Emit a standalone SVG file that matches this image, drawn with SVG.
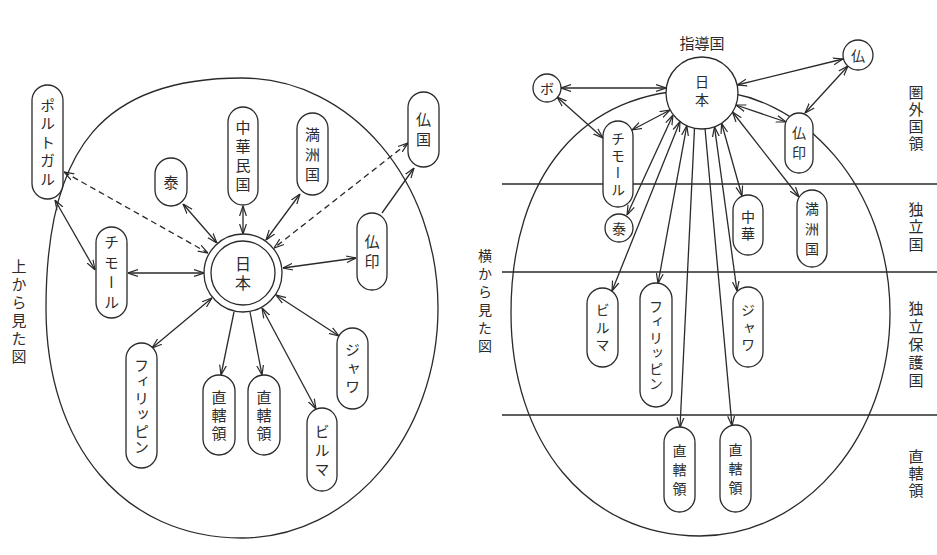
<svg xmlns="http://www.w3.org/2000/svg" width="937" height="555" viewBox="0 0 937 555">
<style>
.bg{fill:#fff}
.frame{fill:none;stroke:#2a2a2a;stroke-width:1.3}
.node{fill:#fff;stroke:#2a2a2a;stroke-width:1.3}
.ln{fill:none;stroke:#2a2a2a;stroke-width:1.3}
.dash{stroke-dasharray:6 4}
.arr{marker-end:url(#ah)}
.arr2{marker-start:url(#ah);marker-end:url(#ah)}
.v{font-family:"Noto Sans CJK JP","Noto Sans CJK SC",sans-serif;fill:#2b2b2b;writing-mode:vertical-rl;text-anchor:middle}
.h{font-family:"Noto Sans CJK JP","Noto Sans CJK SC",sans-serif;fill:#2b2b2b;text-anchor:middle;dominant-baseline:central}
.s15{font-size:15px}
.s14{font-size:14px}
</style>
<defs>
<marker id="ah" viewBox="0 0 10 10" refX="10" refY="5" markerWidth="10" markerHeight="10" markerUnits="userSpaceOnUse" orient="auto-start-reverse">
<path d="M0,1.6 L10,5 L0,8.4" fill="none" stroke="#2a2a2a" stroke-width="1.2"/>
</marker>
</defs>
<rect class="bg" x="0" y="0" width="937" height="555"/>

<!-- left: top view -->
<path id="left-sphere" class="frame" d="M242,78 C350.8,78 438,180.9 438,308 C438,435 350.8,538 242,538 C124,538 46,446 46,308 C46,147 104,78 242,78 Z"/>
<text id="left-title" class="v s15" x="19" y="313" letter-spacing="3">上から見た図</text>

<!-- right: side view -->
<g id="bands">
<line class="ln" x1="502" y1="184" x2="937" y2="184"/>
<line class="ln" x1="502" y1="272" x2="937" y2="272"/>
<line class="ln" x1="502" y1="415" x2="937" y2="415"/>
</g>
<path id="right-sphere" class="frame" d="M700,90 C805,90 890,190 890,313 C890,436 805,536 700,536 C586,536 511,441 511,313 C511,175 583,90 700,90 Z"/>
<text id="right-title" class="v s14" x="485" y="303" letter-spacing="4">横から見た図</text>
<text id="band1" class="v s15" x="916" y="119" letter-spacing="2">圏外国領</text>
<text id="band2" class="v s15" x="916" y="228" letter-spacing="2.5">独立国</text>
<text id="band3" class="v s15" x="916" y="346" letter-spacing="3">独立保護国</text>
<text id="band4" class="v s15" x="916" y="474" letter-spacing="2">直轄領</text>
<text id="leader-label" class="h s15" x="702" y="42">指導国</text>

<g id="connectors">
<!-- left -->
<line class="ln dash arr2" x1="64" y1="172" x2="208" y2="253"/>
<line class="ln arr2" x1="55" y1="200" x2="95" y2="270"/>
<line class="ln arr2" x1="128" y1="273" x2="204" y2="273"/>
<line class="ln arr2" x1="183" y1="204" x2="217" y2="243"/>
<line class="ln arr2" x1="243" y1="206" x2="243" y2="234"/>
<line class="ln arr2" x1="300" y1="194" x2="266" y2="240"/>
<line class="ln dash arr2" x1="408" y1="143" x2="274" y2="248"/>
<line class="ln arr" x1="382" y1="213" x2="414" y2="168"/>
<line class="ln arr2" x1="356" y1="258" x2="283" y2="268"/>
<line class="ln arr2" x1="212" y1="298" x2="152" y2="348"/>
<line class="ln arr" x1="234" y1="312" x2="221" y2="375"/>
<line class="ln arr" x1="250" y1="312" x2="262" y2="375"/>
<line class="ln arr2" x1="262" y1="308" x2="316" y2="409"/>
<line class="ln arr2" x1="276" y1="295" x2="339" y2="336"/>
<!-- right -->
<line class="ln arr2" x1="561" y1="88" x2="666" y2="88"/>
<line class="ln arr2" x1="557" y1="97" x2="603" y2="138"/>
<line class="ln arr2" x1="632" y1="130" x2="670" y2="110"/>
<line class="ln arr2" x1="737" y1="85" x2="843" y2="59"/>
<line class="ln arr2" x1="848" y1="66" x2="805" y2="113"/>
<line class="ln arr2" x1="736" y1="105" x2="786" y2="122"/>
<line class="ln arr2" x1="673" y1="115" x2="627" y2="215"/>
<line class="ln arr2" x1="680" y1="121.5" x2="612" y2="291"/>
<line class="ln arr2" x1="686.8" y1="125.7" x2="658" y2="283.5"/>
<line class="ln arr" x1="694.5" y1="128.3" x2="680" y2="427.5"/>
<line class="ln arr" x1="705" y1="128.3" x2="732" y2="426"/>
<line class="ln arr2" x1="714.5" y1="126.8" x2="737" y2="291"/>
<line class="ln arr2" x1="721.6" y1="123.3" x2="742" y2="196"/>
<line class="ln arr2" x1="732.5" y1="112" x2="799" y2="197"/>
</g>

<!-- left nodes -->
<g id="L-japan"><circle class="node" cx="243" cy="273" r="39"/><circle class="node" cx="243" cy="273" r="32"/><text class="v" style="font-size:16px" x="243" y="275" letter-spacing="3">日本</text></g>
<g id="L-portugal"><rect class="node" x="32" y="85" width="31" height="114" rx="15.5"/><text class="v s15" x="47.5" y="144" letter-spacing="3.5">ポルトガル</text></g>
<g id="L-thai"><rect class="node" x="155" y="158" width="32" height="48" rx="16"/><text class="v s15" x="171" y="182">泰</text></g>
<g id="L-timor"><rect class="node" x="96" y="227" width="31" height="91" rx="15.5"/><text class="v s15" x="111.5" y="275" letter-spacing="5">チモール</text></g>
<g id="L-china"><rect class="node" x="228" y="107" width="30" height="98" rx="15"/><text class="v s15" x="243" y="158" letter-spacing="4">中華民国</text></g>
<g id="L-manchukuo"><rect class="node" x="297" y="113" width="31" height="82" rx="15.5"/><text class="v s15" x="312.5" y="157" letter-spacing="5">満洲国</text></g>
<g id="L-france"><rect class="node" x="408" y="92" width="31" height="75" rx="15.5"/><text class="v s15" x="423.5" y="132" letter-spacing="5">仏国</text></g>
<g id="L-indochina"><rect class="node" x="357" y="213" width="30" height="77" rx="15"/><text class="v s15" x="372" y="254" letter-spacing="5">仏印</text></g>
<g id="L-philippines"><rect class="node" x="126" y="343" width="31" height="125" rx="15.5"/><text class="v s15" x="141.5" y="407" letter-spacing="1.5">フィリッピン</text></g>
<g id="L-direct1"><rect class="node" x="203" y="375" width="32" height="80" rx="16"/><text class="v s15" x="219" y="417" letter-spacing="3">直轄領</text></g>
<g id="L-direct2"><rect class="node" x="248" y="375" width="32" height="80" rx="16"/><text class="v s15" x="264" y="417" letter-spacing="3">直轄領</text></g>
<g id="L-burma"><rect class="node" x="307" y="408" width="30" height="83" rx="15"/><text class="v s15" x="322" y="452" letter-spacing="4">ビルマ</text></g>
<g id="L-java"><rect class="node" x="337" y="328" width="31" height="81" rx="15.5"/><text class="v s15" x="352.5" y="370" letter-spacing="3.5">ジャワ</text></g>

<!-- right nodes -->
<g id="R-japan"><circle class="node" cx="702" cy="93" r="36"/><text class="v s14" x="702" y="93" letter-spacing="4">日本</text></g>
<g id="R-portugal"><circle class="node" cx="547" cy="88" r="14"/><text class="h s14" x="547" y="88">ボ</text></g>
<g id="R-timor"><rect class="node" x="603" y="121" width="30" height="86" rx="15"/><text class="v s14" x="618" y="166" letter-spacing="3">チモール</text></g>
<g id="R-thai"><circle class="node" cx="619" cy="228" r="14"/><text class="h s14" x="619" y="228">泰</text></g>
<g id="R-france"><circle class="node" cx="858" cy="55" r="15"/><text class="h s14" x="858" y="55">仏</text></g>
<g id="R-indochina"><rect class="node" x="785" y="113" width="28" height="60" rx="14"/><text class="v s14" x="799" y="146" letter-spacing="6">仏印</text></g>
<g id="R-china"><rect class="node" x="733" y="195" width="30" height="60" rx="15"/><text class="v s14" x="748" y="227" letter-spacing="3">中華</text></g>
<g id="R-manchukuo"><rect class="node" x="797" y="190" width="30" height="77" rx="15"/><text class="v s14" x="812" y="232" letter-spacing="6">満洲国</text></g>
<g id="R-burma"><rect class="node" x="587" y="288" width="31" height="79" rx="15.5"/><text class="v s14" x="602.5" y="329" letter-spacing="3.5">ビルマ</text></g>
<g id="R-philippines"><rect class="node" x="640" y="283" width="32" height="124" rx="16"/><text class="v s14" x="656" y="346" letter-spacing="1.5">フィリッピン</text></g>
<g id="R-java"><rect class="node" x="733" y="287" width="30" height="80" rx="15"/><text class="v s14" x="748" y="329" letter-spacing="3.5">ジャワ</text></g>
<g id="R-direct1"><rect class="node" x="664" y="427" width="31" height="85" rx="15.5"/><text class="v s14" x="679.5" y="472" letter-spacing="5">直轄領</text></g>
<g id="R-direct2"><rect class="node" x="720" y="425" width="31" height="87" rx="15.5"/><text class="v s14" x="735.5" y="471" letter-spacing="5">直轄領</text></g>
</svg>
